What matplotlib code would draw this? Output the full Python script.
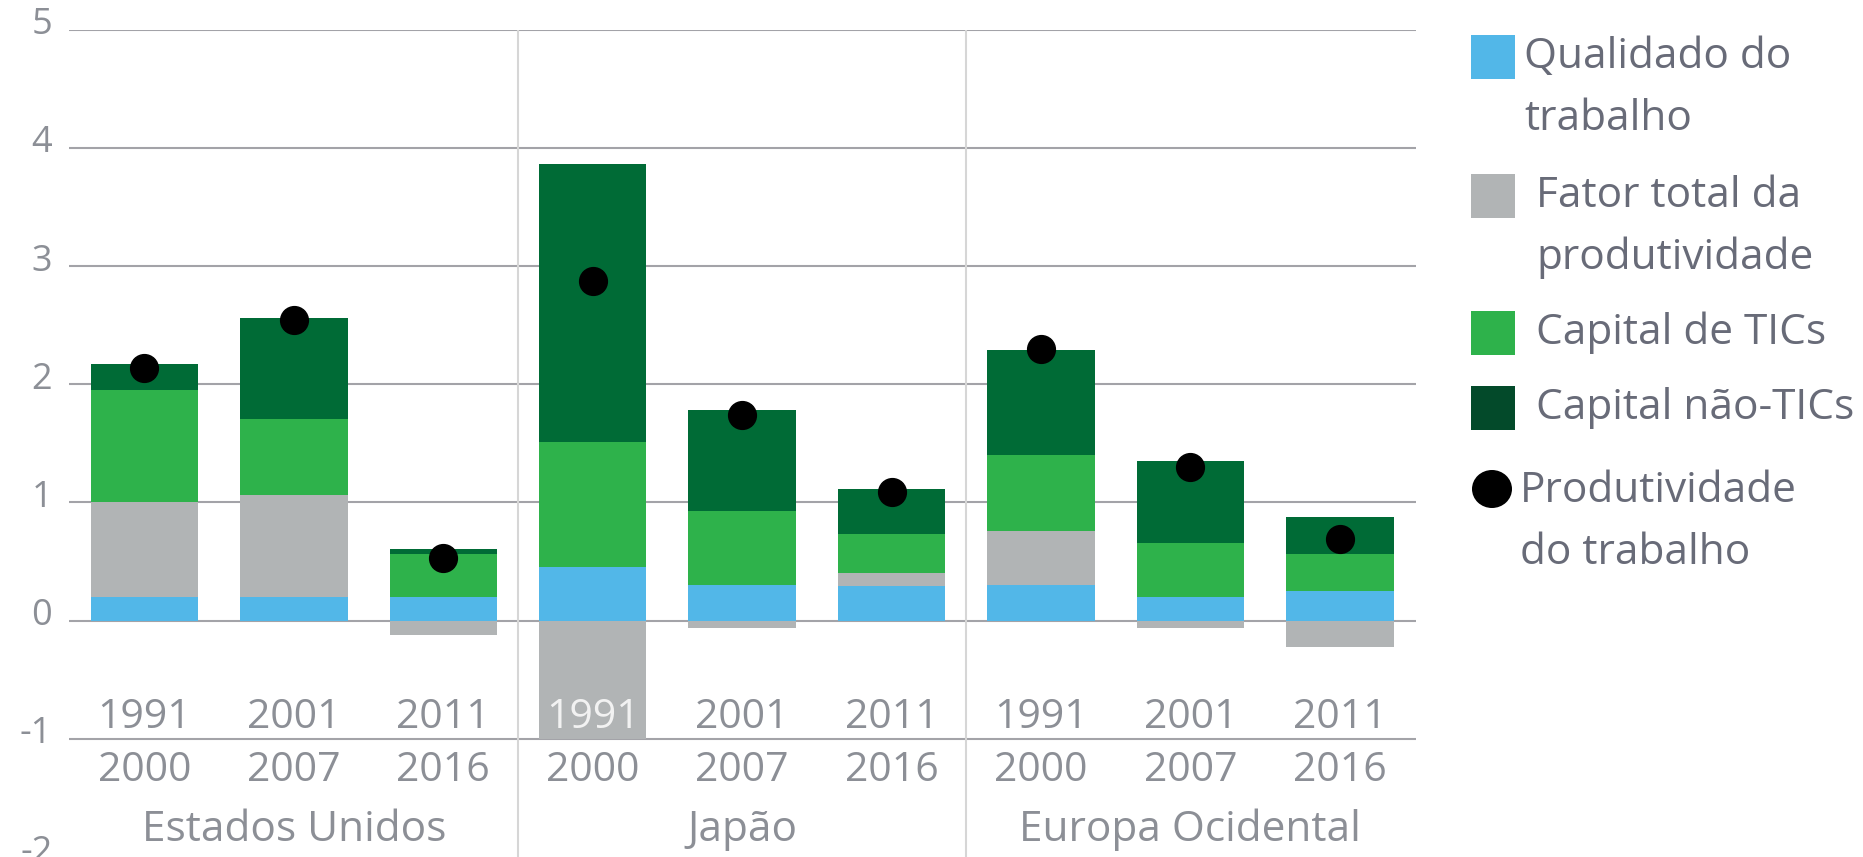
import matplotlib
matplotlib.use("Agg")
import matplotlib.pyplot as plt
from matplotlib.patches import Rectangle, Ellipse
from matplotlib.transforms import ScaledTranslation
import numpy as np

plt.rcParams['font.family'] = ['Open Sans', 'DejaVu Sans']

# ---- data ----
groups = ['Estados Unidos', 'Japão', 'Europa Ocidental']
periods = ['1991\n2000', '2001\n2007', '2011\n2016',
           '1991\n2000', '2001\n2007', '2011\n2016',
           '1991\n2000', '2001\n2007', '2011\n2016']
qualidade = [0.20, 0.20, 0.20, 0.45, 0.30, 0.29, 0.30, 0.20, 0.25]
fator_total = [0.80, 0.86, -0.12, -1.00, -0.06, 0.11, 0.46, -0.06, -0.22]
capital_tics = [0.95, 0.65, 0.36, 1.06, 0.63, 0.33, 0.64, 0.46, 0.31]
capital_nao_tics = [0.22, 0.85, 0.05, 2.35, 0.85, 0.38, 0.89, 0.69, 0.32]
produtividade = [2.14, 2.54, 0.53, 2.87, 1.74, 1.09, 2.30, 1.30, 0.69]
series_names = ['Qualidado do\ntrabalho', 'Fator total da\nprodutividade',
                'Capital de TICs', 'Capital não-TICs']
dot_name = 'Produtividade\ndo trabalho'
yticks = [-2, -1, 0, 1, 2, 3, 4, 5]

# ---- style ----
colors = ['#52B7E8', '#B1B4B5', '#2EB24B', '#006B36']
legend_colors = ['#52B7E8', '#B1B4B5', '#2EB24B', '#034A2A']
text_gray = '#8C8F96'
legend_text = '#686B78'
grid_gray = '#A3A3A8'

W, H = 1863, 857
fig = plt.figure(figsize=(W / 100, H / 100), dpi=100)
ax_left, ax_right = 69 / W, 1416 / W
ax_top = 1 - 29.7 / H
ax = fig.add_axes([ax_left, 0.0, ax_right - ax_left, ax_top])

x = np.arange(len(periods))
series = [qualidade, fator_total, capital_tics, capital_nao_tics]
pos_base = np.zeros(len(x))
neg_base = np.zeros(len(x))
for vals, c in zip(series, colors):
    vals = np.asarray(vals, dtype=float)
    bottoms = np.where(vals >= 0, pos_base, neg_base)
    ax.bar(x, vals, bottom=bottoms, width=0.72, color=c, zorder=3, linewidth=0)
    pos_base = pos_base + np.where(vals >= 0, vals, 0)
    neg_base = neg_base + np.where(vals < 0, vals, 0)

ax.plot(x, produtividade, 'o', color='black', markersize=20, zorder=5,
        linestyle='none')

ax.set_xlim(-0.505, 8.51)
ax.set_ylim(-2, 5)
for y in yticks:
    if y > -2:
        ax.axhline(y, color=grid_gray, linewidth=1.5, zorder=1)
for sx in [2.5, 5.5]:
    ax.axvline(sx, color='#D6D6D6', linewidth=1.5, zorder=2)

for s in ax.spines.values():
    s.set_visible(False)
ax.set_xticks([])
ax.set_yticks(yticks)
ax.set_yticklabels([str(v) for v in yticks])
ax.tick_params(axis='y', length=0, pad=12, labelsize=26, labelcolor=text_gray)
off = ScaledTranslation(0, 9 / 100, fig.dpi_scale_trans)
for lab in ax.get_yticklabels():
    lab.set_transform(lab.get_transform() + off)

# period labels
for i, p in enumerate(periods):
    l1, l2 = p.split('\n')
    c1 = '#F2F2F2' if fator_total[i] <= -0.9 else text_gray
    ax.text(i, -0.905, l1, ha='center', va='baseline', fontsize=29.5,
            color=c1, zorder=6)
    ax.text(i, -1.355, l2, ha='center', va='baseline', fontsize=29.5,
            color=text_gray, zorder=6)
for g, name in enumerate(groups):
    ax.text(3 * g + 1, -1.862, name, ha='center', va='baseline', fontsize=30.5,
            color=text_gray, zorder=6)

# ---- legend (pixel coordinate overlay) ----
lax = fig.add_axes([0, 0, 1, 1])
lax.set_xlim(0, W)
lax.set_ylim(H, 0)
lax.axis('off')
sw_x, sw = 1471, 44
sw_tops = [34.5, 173.5, 311, 386]
text_x = [1524, 1536, 1536, 1536]
line_h = 62
for name, c, top, tx in zip(series_names, legend_colors, sw_tops, text_x):
    lax.add_patch(Rectangle((sw_x, top), sw, sw, color=c, linewidth=0))
    for k, line in enumerate(name.split('\n')):
        lax.text(tx, top + sw / 2 + k * line_h, line, ha='left', va='center',
                 fontsize=30.5, color=legend_text)
lax.add_patch(Ellipse((1492, 489), 40, 38, color='black', linewidth=0))
for k, line in enumerate(dot_name.split('\n')):
    lax.text(1520, 491 + k * line_h, line, ha='left', va='center',
             fontsize=30.5, color=legend_text)

fig.savefig('out.png', dpi=100)
